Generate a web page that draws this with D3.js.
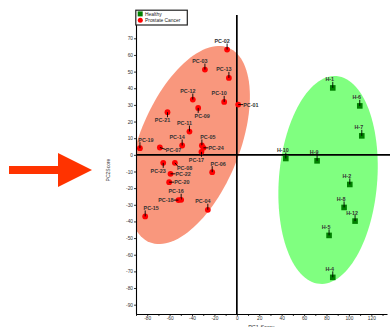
<!DOCTYPE html>
<html>
<head>
<meta charset="utf-8">
<script src="https://cdn.jsdelivr.net/npm/d3@7/dist/d3.min.js"></script>
<style>
  html, body { margin: 0; padding: 0; background: #fff; }
  svg { display: block; }
  text { font-family: "Liberation Sans", Arial, sans-serif; }
</style>
</head>
<body>
<svg id="chart" width="390" height="327"></svg>
<script>
// ---- data ----
const pcNames = ["PC-01","PC-02","PC-03","PC-04","PC-05","PC-06","PC-07","PC-08","PC-09","PC-10","PC-11","PC-12","PC-13","PC-14","PC-15","PC-16","PC-17","PC-18","PC-19","PC-20","PC-21","PC-22","PC-23","PC-24"];
const pcX = [1.2,-8.7,-28.5,-25.9,-31.2,-22.0,-68.7,-55.3,-34.5,-11.3,-42.3,-39.3,-7.1,-48.8,-81.8,-49.7,-31.6,-52.1,-86.5,-60.4,-61.9,-59.2,-65.7,-29.8];
const pcY = [30.2,63.2,51.2,-33.0,5.6,-10.4,4.4,-4.8,28.2,31.8,14.0,33.2,46.2,5.6,-37.0,-27.0,1.8,-27.2,4.0,-16.4,25.6,-11.4,-4.8,4.2];
const hNames = ["H-1","H-2","H-4","H-5","H-6","H-7","H-8","H-9","H-10","H-12"];
const hX = [85.6,100.8,85.6,82.3,109.7,111.5,95.7,71.6,43.7,105.5];
const hY = [40.2,-17.8,-73.6,-48.4,29.4,11.4,-31.6,-3.6,-2.2,-39.8];
const yTicks = [-90,-80,-70,-60,-50,-40,-30,-20,-10,0,10,20,30,40,50,60,70];
const xTicks = [-90,-80,-70,-60,-50,-40,-30,-20,-10,0,10,20,30,40,50,60,70,80,90,100,110,120,130];
const legendLabels = ["Healthy","Prostate Cancer"];
// group ellipses (data units): centre, major semi-axis vector, minor semi-axis vector
const pcEllipse = {cx:-42.7, cy:5.9, ax:35.2, ay:58.4, bx:41.4, by:-11.3};
const hEllipse  = {cx:81.4, cy:-15.1, ax:7.6, ay:62.4, bx:43.7, by:-2.4};
// label placement codes (layout only)
const pcLabelDir = ["E","NW","NW","NW","NE","NE","ESE","SED","SE","NW","NW","NW","NW","NW","NE","NW","SW","W","NE","E","SW","E","SW","E"];

// ---- layout ----
const svg = d3.select("#chart");
const x = d3.scaleLinear().domain([-90, 134]).range([136, 387]);
const y = d3.scaleLinear().domain([-95.6, 87]).range([314, 10]);

svg.append("defs").append("clipPath").attr("id","plotClip")
  .append("rect").attr("x", x(-90)).attr("y", 0).attr("width", 390 - x(-90)).attr("height", y(-95.6));

// arrow
svg.append("path")
  .attr("d","M9,166 L58,166 L58,153 L92,170 L58,187 L58,174 L9,174 Z")
  .attr("fill","#ff3300");

// ellipses
function ellipsePts(e){
  return d3.range(0, 361, 3).map(t => {
    const a = t*Math.PI/180;
    return [e.cx + Math.cos(a)*e.ax + Math.sin(a)*e.bx, e.cy + Math.cos(a)*e.ay + Math.sin(a)*e.by];
  });
}
const line = d3.line().x(d => x(d[0])).y(d => y(d[1])).curve(d3.curveLinearClosed);
const gE = svg.append("g").attr("clip-path","url(#plotClip)");
gE.append("path").attr("d", line(ellipsePts(pcEllipse))).attr("fill","#f9977d");
gE.append("path").attr("d", line(ellipsePts(hEllipse))).attr("fill","#80ff80");

// zero lines
svg.append("line").attr("x1", x(0)).attr("x2", x(0)).attr("y1", y(84)).attr("y2", y(-95.6))
  .attr("stroke","#000").attr("stroke-width",1.7);
svg.append("line").attr("x1", x(-90)).attr("x2", 390).attr("y1", y(0)).attr("y2", y(0))
  .attr("stroke","#000").attr("stroke-width",1.7);

// label helper
const labelFont = 5.4;
function placeLabel(g, px, py, name, dir){
  let tx, ty, anchor = "middle", l;
  switch(dir){
    case "NW": tx = px-5; ty = py-6.5; l=[px,py,px,py-6]; break;
    case "NE": tx = px+6; ty = py-6.5; l=[px,py,px,py-6]; break;
    case "N":  tx = px-3; ty = py-6.5; l=[px,py,px,py-6]; break;
    case "SE": tx = px+4; ty = py+10; l=[px,py,px,py+5]; break;
    case "SW": tx = px-5; ty = py+10; l=[px,py,px,py+5]; break;
    case "E":  tx = px+5; ty = py+2; anchor="start"; l=[px,py,px+5,py]; break;
    case "ESE":tx = px+6; ty = py+4.5; anchor="start"; l=[px,py,px+6,py+2]; break;
    case "W":  tx = px-5; ty = py+2; anchor="end"; l=[px,py,px-5,py]; break;
    case "SED":tx = px+2; ty = py+7.2; anchor="start"; l=[px,py,px+3,py+3.5]; break;
  }
  g.append("line").attr("x1",l[0]).attr("y1",l[1]).attr("x2",l[2]).attr("y2",l[3])
    .attr("stroke","#000").attr("stroke-width",0.9);
  g.append("text").attr("x",tx).attr("y",ty).attr("text-anchor",anchor)
    .attr("font-size",labelFont).attr("font-weight","bold").attr("fill","#333").text(name);
}

// healthy points
const gH = svg.append("g");
hNames.forEach((n,i) => {
  const px = x(hX[i]), py = y(hY[i]);
  gH.append("rect").attr("x",px-2.8).attr("y",py-2.8).attr("width",5.6).attr("height",5.6).attr("fill","#008000");
  placeLabel(gH, px, py, n, "N");
});

// cancer points
const gP = svg.append("g");
pcNames.forEach((n,i) => {
  const px = x(pcX[i]), py = y(pcY[i]);
  gP.append("circle").attr("cx",px).attr("cy",py).attr("r",2.9).attr("fill","#ff0000");
  placeLabel(gP, px, py, n, pcLabelDir[i]);
});

// axes
const yAxis = d3.axisLeft(y).tickValues(yTicks).tickSize(2).tickSizeOuter(0).tickPadding(1)
  .tickFormat(d => String(d));
const gy = svg.append("g").attr("transform",`translate(${x(-90)},0)`).call(yAxis);
const xAxis = d3.axisBottom(x).tickValues(xTicks).tickSize(2).tickSizeOuter(0).tickPadding(1)
  .tickFormat(d => (d % 20 === 0 ? String(d) : ""));
const gx = svg.append("g").attr("transform",`translate(0,${y(-95.6)})`).call(xAxis);
[gx, gy].forEach(g => {
  g.select(".domain").attr("stroke","#000").attr("stroke-width",1.1);
  g.selectAll(".tick line").attr("stroke","#000").attr("stroke-width",0.8);
  g.selectAll(".tick text").attr("font-size",4.8).attr("fill","#333")
    .attr("font-family",'"Liberation Sans", Arial, sans-serif');
});

// axis titles
svg.append("text").attr("x",(x(-90)+x(134))/2).attr("y",328.5).attr("text-anchor","middle")
  .attr("font-size",5.5).attr("fill","#333").text("PC1 Score");
svg.append("text").attr("transform","translate(110,170) rotate(-90)").attr("text-anchor","middle")
  .attr("font-size",5).attr("fill","#333").text("PC2Score");

// legend
const lg = svg.append("g");
lg.append("rect").attr("x",135.8).attr("y",10.2).attr("width",51.5).attr("height",14.8)
  .attr("fill","#fff").attr("stroke","#222").attr("stroke-width",1.2);
lg.append("rect").attr("x",137.7).attr("y",11.4).attr("width",5).attr("height",5).attr("fill","#008000");
lg.append("circle").attr("cx",140.3).attr("cy",20.2).attr("r",2.5).attr("fill","#ff0000");
lg.append("text").attr("x",145).attr("y",15.8).attr("font-size",4.9).attr("fill","#222").text(legendLabels[0]);
lg.append("text").attr("x",145).attr("y",22).attr("font-size",4.9).attr("fill","#222").text(legendLabels[1]);
</script>
</body>
</html>
